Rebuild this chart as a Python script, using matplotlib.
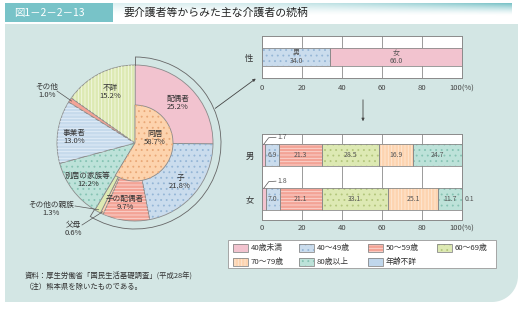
import numpy as np
import matplotlib.pyplot as plt
from matplotlib.patches import Rectangle, Polygon, Arc

plt.rcParams['font.family'] = ['Noto Sans CJK JP', 'DejaVu Sans']
plt.rcParams['hatch.linewidth'] = 0.6

W, H = 524, 309

# --- data ---
pie_labels = ['配偶者', '子', '子の配偶者', '父母', 'その他の親族',
              '別居の家族等', '事業者', 'その他', '不詳']
pie_values = [25.2, 21.8, 9.7, 0.6, 1.3, 12.2, 13.0, 1.0, 15.2]
cohabit_label = '同居'
cohabit_value = 58.7

sex_labels = ['男', '女']
sex_values = [34.0, 66.0]

age_groups = ['40歳未満', '40～49歳', '50～59歳', '60～69歳',
              '70～79歳', '80歳以上', '年齢不詳']
male_ages = [1.7, 6.9, 21.3, 28.5, 16.9, 24.7, 0.0]
female_ages = [1.8, 7.0, 21.1, 33.1, 25.1, 11.7, 0.1]

x_ticks = [0, 20, 40, 60, 80, 100]
x_ticklabels = ['0', '20', '40', '60', '80', '100(%)']

# --- styles ---
txt = '#333333'
edge = '#8a8a8a'
pink = '#f2c3cf'
blue = ('#cadced', '...', '#95b6d6')
salmon = ('#f3a396', '-----', '#fbd9d2')
green = ('#dde9b3', '...', '#b3c67c')
orange = ('#fdd4b0', '|||||', '#fee8d6')
teal = ('#bde2d9', '...', '#86c3b3')
age_styles = [(pink, None, None), blue, salmon, green, orange, teal,
              ('#c0d7ec', None, None)]

pie_styles = [(pink, None, None), blue, salmon, ('#fdd4b0', None, None),
              ('#dde9b3', None, None), teal, ('#c6daec', '-----', '#e4eef8'),
              ('#f3a396', None, None), ('#dde9b3', '|||||', '#f3f8e2')]
cohabit_style = ('#fdd3ad', '...', '#e9a877')

# label positions (pixel offsets from pie centre)
pie_label_pos = [(43, 40), (45, -39), (-10, -60), (-62, -86), (-84, -66),
                 (-47, -37), (-61, 6), (-88, 52), (-25, 51)]
leader_from = {3: (-53, -82), 4: (-60, -63), 7: (-78, 52)}

fig = plt.figure(figsize=(W / 100, H / 100), dpi=100)
fig.patch.set_facecolor('white')


def rect(x0, y0, x1, y1):
    return [x0 / W, 1 - y1 / H, (x1 - x0) / W, (y1 - y0) / H]


# background axes in pixel units
bg = fig.add_axes([0, 0, 1, 1])
bg.set_xlim(0, W)
bg.set_ylim(H, 0)
bg.axis('off')

# panel with rounded bottom-right corner
r = 26
ang = np.linspace(0, np.pi / 2, 20)
pts = [(5, 24), (518, 24), (518, 302 - r)]
pts += [(518 - r + r * np.cos(a), 302 - r + r * np.sin(a)) for a in ang]
pts += [(5, 302)]
bg.add_patch(Polygon(pts, closed=True, facecolor='#d3e6e4', edgecolor='none'))

# header
bg.add_patch(Rectangle((5, 3), 108, 19, facecolor='#78c3c8', edgecolor='none'))
bg.text(14, 13, '図1－2－2－13', color='white', fontsize=7.5, va='center', ha='left')
bg.text(124, 13, '要介護者等からみた主な介護者の続柄', color='#222222',
        fontsize=7.8, va='center', ha='left')
gx = np.linspace(0, 1, 200)
gy = np.linspace(0, 1, 20)
grad = np.zeros((20, 200, 4))
grad[..., 0] = 0.47
grad[..., 1] = 0.76
grad[..., 2] = 0.78
grad[..., 3] = (0.25 + 0.75 * gx[None, :] ** 2) * (1 - gy[:, None]) ** 1.5
bg.imshow(grad, extent=(113, 512, 16, 3), aspect='auto', zorder=1)

# footnotes
bg.text(25, 277, '資料：厚生労働省「国民生活基礎調査」(平成28年)', fontsize=5.3,
        color=txt, va='center')
bg.text(25, 287, '（注）熊本県を除いたものである。', fontsize=5.3, color=txt,
        va='center')

# arrows
bg.annotate('', xy=(258, 77), xytext=(213, 110),
            arrowprops=dict(arrowstyle='-|>', color='#444444', lw=0.6,
                            mutation_scale=4))
bg.annotate('', xy=(363, 124), xytext=(363, 97),
            arrowprops=dict(arrowstyle='-|>', color='#444444', lw=0.6,
                            mutation_scale=4))

# --- pie ---
cx, cy = 135, 143
pax = fig.add_axes(rect(cx - 100, cy - 100, cx + 100, cy + 100))
R = 78
wedges, _ = pax.pie(pie_values, colors=[s[0] for s in pie_styles], radius=R,
                    startangle=90, counterclock=False,
                    wedgeprops=dict(edgecolor=edge, linewidth=0.6))
hw, _ = pax.pie(pie_values, colors=['none'] * len(pie_values), radius=R,
                startangle=90, counterclock=False, wedgeprops=dict(linewidth=0))
for w, (fc, hatch, hc) in zip(hw, pie_styles):
    if hatch:
        w.set_hatch(hatch)
        w.set_edgecolor(hc)
    w.set_linewidth(0)

inner, _ = pax.pie([cohabit_value, 100 - cohabit_value],
                   colors=[cohabit_style[0], 'none'], radius=38, startangle=90,
                   counterclock=False, wedgeprops=dict(edgecolor=edge, linewidth=0.6))
inner[1].set_edgecolor('none')
ih, _ = pax.pie([cohabit_value, 100 - cohabit_value], colors=['none', 'none'],
                radius=38, startangle=90, counterclock=False,
                wedgeprops=dict(linewidth=0))
ih[0].set_hatch(cohabit_style[1])
ih[0].set_edgecolor(cohabit_style[2])
ih[1].set_edgecolor('none')

# outer ring around 同居 share
t1 = 90 - cohabit_value * 3.6
pax.add_patch(Arc((0, 0), 2 * 86, 2 * 86, theta1=t1, theta2=90, color='#666666', lw=0.6))
for t in (t1, 90):
    a = np.radians(t)
    pax.plot([R * np.cos(a), 86 * np.cos(a)], [R * np.sin(a), 86 * np.sin(a)],
             color='#666666', lw=0.6)

for i, (lab, v) in enumerate(zip(pie_labels, pie_values)):
    px, py = pie_label_pos[i]
    pax.text(px, py, f'{lab}\n{v:.1f}%', ha='center', va='center', fontsize=5.5,
             color=txt, linespacing=1.15)
    if i in leader_from:
        w = wedges[i]
        mid = np.radians((w.theta1 + w.theta2) / 2)
        lx, ly = leader_from[i]
        pax.plot([lx, (R - 2) * np.cos(mid)], [ly, (R - 2) * np.sin(mid)],
                 color='#555555', lw=0.5)
pax.text(20, 5, f'{cohabit_label}\n{cohabit_value:.1f}%', ha='center', va='center',
         fontsize=5.5, color=txt, linespacing=1.15)
pax.set_xlim(-100, 100)
pax.set_ylim(-100, 100)
pax.set_aspect('equal')
pax.axis('off')


# --- bar helpers ---
def style_axis(ax, pad):
    ax.set_facecolor('white')
    ax.set_xlim(0, 100)
    ax.set_xticks(x_ticks)
    ax.set_xticklabels(x_ticklabels)
    ax.tick_params(axis='x', length=0, labelsize=5.5, labelcolor='#444444', pad=pad)
    ax.tick_params(axis='y', length=0, labelsize=6, labelcolor=txt, pad=6)
    ax.grid(axis='x', color='#9a9a9a', lw=0.7)
    ax.set_axisbelow(True)
    for s in ax.spines.values():
        s.set_color('#8a8a8a')
        s.set_linewidth(0.7)


def segment(ax, y, v, left, h, style):
    fc, hatch, hc = style
    ax.barh(y, v, left=left, height=h, color=fc, lw=0, zorder=2)
    if hatch:
        ax.barh(y, v, left=left, height=h, color='none', edgecolor=hc,
                hatch=hatch, lw=0, zorder=3)
    ax.barh(y, v, left=left, height=h, color='none', edgecolor=edge, lw=0.6, zorder=4)


# top: by sex
tax = fig.add_axes(rect(262, 36, 462, 78))
style_axis(tax, 4.5)
tax.set_ylim(-0.5, 0.5)
tax.set_yticks([0])
tax.set_yticklabels(['性'])
sex_styles = [blue, (pink, None, None)]
left = 0
for lab, v, st in zip(sex_labels, sex_values, sex_styles):
    segment(tax, 0, v, left, 0.41, st)
    tax.text(left + v / 2, 0, f'{lab}\n{v:.1f}', ha='center', va='center',
             fontsize=5, color='#555555', linespacing=1.0, zorder=5)
    left += v

# bottom: by age within sex
bax = fig.add_axes(rect(262, 134, 462, 220))
style_axis(bax, 3)
bax.set_ylim(1.48, -0.48)
bax.set_yticks([0, 1])
bax.set_yticklabels(sex_labels)
bh = 0.49
for y, vals in enumerate([male_ages, female_ages]):
    left = 0
    for i, (v, st) in enumerate(zip(vals, age_styles)):
        if v <= 0:
            continue
        if v < 1:
            bax.text(101.5, y, f'{v:.1f}', ha='left', va='center', fontsize=5,
                     color='#555555')
            bax.barh(y, v, left=left, height=bh, color=st[0], lw=0, zorder=2)
        else:
            segment(bax, y, v, left, bh, st)
            if v < 3:
                top = y - bh / 2
                bax.plot([left + v / 2, left + v / 2 + 2.5, 7],
                         [top, top - 0.15, top - 0.16], color='#555555', lw=0.5,
                         clip_on=False, zorder=5)
                bax.text(7.5, top - 0.16, f'{v:.1f}', ha='left', va='center',
                         fontsize=5, color='#555555')
            else:
                bax.text(left + v / 2, y, f'{v:.1f}', ha='center', va='center',
                         fontsize=5, color='#555555', zorder=5)
        left += v

# legend (manual layout)
bg.add_patch(Rectangle((228, 240), 268, 28, facecolor='white', edgecolor='#999999',
                       lw=0.6, zorder=2))
lax = fig.add_axes(rect(228, 240, 496, 268))
lax.set_xlim(228, 496)
lax.set_ylim(268, 240)
lax.axis('off')
col_x = [233, 299, 368, 437]
row_y = [248, 262]
for i, (lab, st) in enumerate(zip(age_groups, age_styles)):
    x0 = col_x[i % 4]
    y0 = row_y[i // 4]
    fc, hatch, hc = st
    lax.add_patch(Rectangle((x0, y0 - 4), 15, 8, facecolor=fc, lw=0))
    if hatch:
        lax.add_patch(Rectangle((x0, y0 - 4), 15, 8, facecolor='none',
                                edgecolor=hc, hatch=hatch, lw=0))
    lax.add_patch(Rectangle((x0, y0 - 4), 15, 8, facecolor='none',
                            edgecolor=edge, lw=0.6))
    lax.text(x0 + 18, y0, lab, fontsize=5.6, color=txt, va='center', ha='left')

fig.savefig('out.png', dpi=100)
